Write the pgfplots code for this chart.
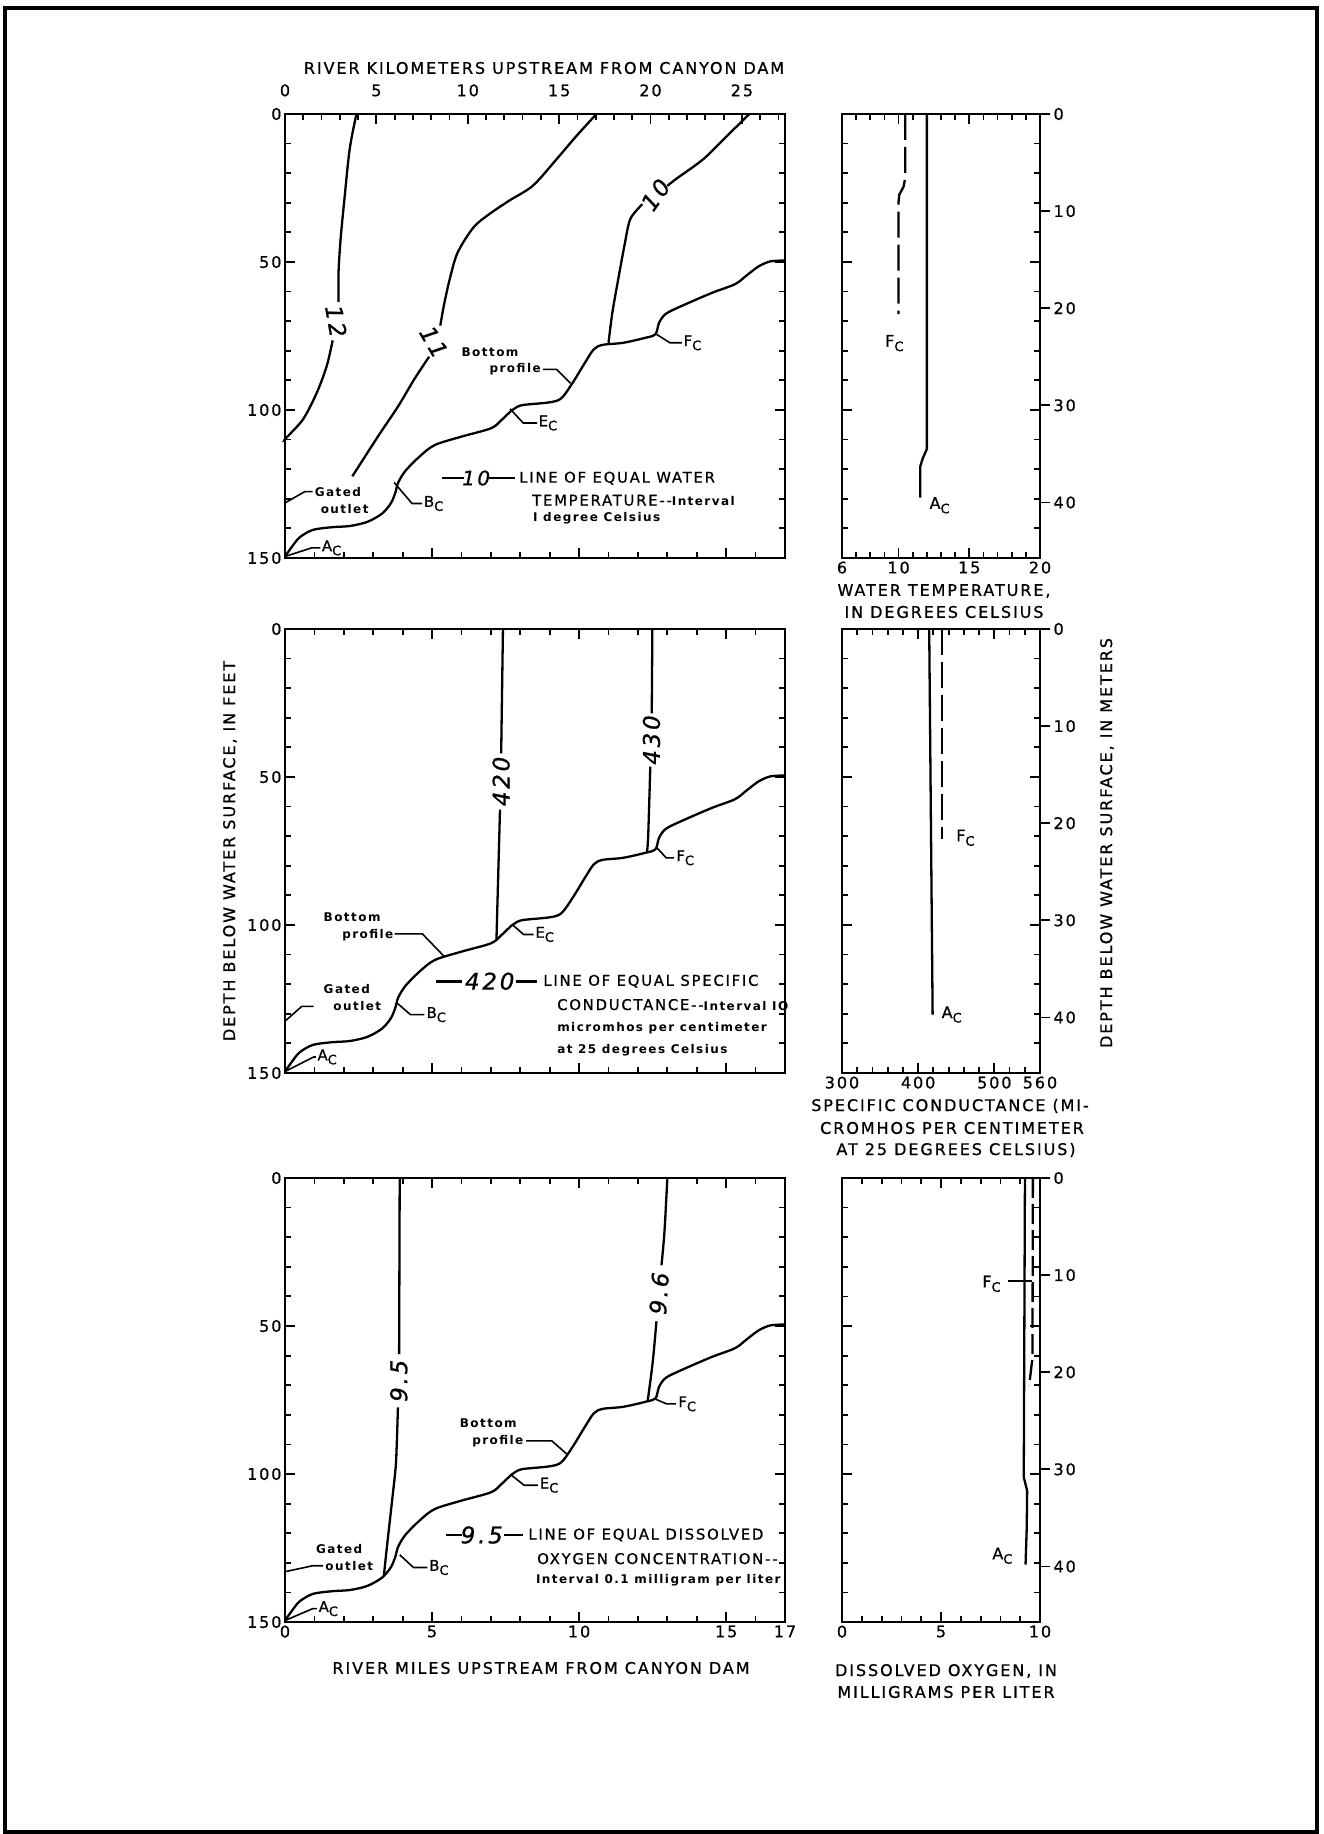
\documentclass[border=0pt]{standalone}
\usepackage{fontspec}
\setmainfont{DejaVu Sans}[LetterSpace=12, UprightFeatures={FakeBold=0.8}, ItalicFeatures={FakeBold=0.8}]
\usepackage{pgfplots}
\pgfplotsset{compat=1.18}

\newcommand{\fs}[1]{\fontsize{#1}{#1}\selectfont}
\newcommand{\sub}[1]{\raisebox{-0.5ex}{\fs{13}#1}}

% bottom profile of the reservoir, river miles vs feet below surface
\pgfplotstableread{
x y
0 149.5
0.25 146
0.5 143
0.95 140.5
1.6 139.6
2.2 139.2
2.8 137.8
3.3 135
3.6 131.5
3.75 128
3.85 124.5
4.1 120.5
4.6 115.5
5.1 111.8
6.0 109.0
7.0 106.2
7.35 103.5
7.7 100.2
7.85 99.2
8.1 98.3
9.0 97.4
9.4 96
9.8 90.5
10.2 84
10.5 79.5
10.8 78
11.5 77.3
12.3 75.5
12.6 74.4
12.72 70.5
12.95 67.5
13.5 64.8
14.5 60.5
15.3 57.5
15.7 54.5
16.1 51.5
16.5 49.8
17 49.5
}\profile

\tikzset{
  ldr/.style={black, line width=1.6pt},
  bt/.style={font=\bfseries\fs{12}, anchor=west, inner sep=0pt},
  up/.style={font=\fs{14.8}, anchor=west, inner sep=0pt},
  iso/.style={font=\itshape\fs{23}, inner sep=0pt},
  lab/.style={font=\fs{16}},
}
\pgfplotsset{
  every axis/.append style={scale only axis, clip=false,
    axis line style={line width=2.3pt},
    tick style={line width=1.8pt, black},
    major tick length=10pt, minor tick length=6pt,
    tick label style={font=\fs{16}},
    /pgf/number format/assume math mode=true},
  lp/.style={width=500pt, height=444pt, xmin=0, xmax=17, ymin=0, ymax=150,
    y dir=reverse, xtick={0,5,10,15}, minor xtick={0,1,...,17},
    ytick={0,50,100,150}, minor ytick={0,10,...,150}, xticklabels={}},
  rp/.style={width=198pt, height=444pt, ymin=0, ymax=45.72, y dir=reverse,
    ytick={15.24,30.48}, yticklabels={},
    minor ytick={3.048,6.096,9.144,12.192,18.288,21.336,24.384,27.432,33.528,36.576,39.624,42.672}},
  rr/.style={width=198pt, height=444pt, ymin=0, ymax=45.72, y dir=reverse,
    xmin=0, xmax=1, axis y line*=right, axis x line=none,
    ytick={0,10,20,30,40}, tick align=outside, major tick length=10pt},
  ln/.style={black, line width=2.3pt, smooth, tension=0.5},
  ls/.style={black, line width=2.3pt},
  ld/.style={black, line width=2.3pt, dash pattern=on 26pt off 7pt},
}

\begin{document}
\begin{tikzpicture}[x=1pt,y=1pt]
\path[use as bounding box] (0,0) rectangle (1323,1834);
\draw[line width=3.5pt] (5,2) rectangle (1317,1826);

% ---------------- top left: water temperature ----------------
\begin{axis}[lp, at={(285pt,1720pt)}, anchor=north west, xtick pos=bottom]
\addplot[ln] table {\profile};
\addplot[ln] coordinates {(2.43,0) (2.20,11.8) (2.02,28.8) (1.89,42.3) (1.82,53.6) (1.82,63.5)};
\addplot[ln] coordinates {(1.62,76.5) (1.42,85.1) (1.08,94.2) (0.61,103.2) (0.04,109.4) (0,110)};
\addplot[ln] coordinates {(10.59,0) (9.92,7.3) (9.24,15.2) (8.43,24.2) (7.62,29.3) (6.95,33.8) (6.41,38.3) (5.87,46.8) (5.60,55.8) (5.40,64.8) (5.28,71.5)};
\addplot[ln] coordinates {(4.90,82) (4.39,89.7) (3.85,98.7) (3.17,108.8) (2.29,122.4)};
\addplot[ln] coordinates {(15.79,0) (15.04,7.3) (14.23,15.2) (13.29,22.0) (13.0,24.3)};
\addplot[ln] coordinates {(12.15,30.5) (11.74,35.5) (11.54,44.5) (11.33,55.8) (11.13,67.1) (11.0,77.3)};
\node[iso, rotate=-80] at (axis cs:1.74,70) {12};
\node[iso, rotate=-60] at (axis cs:5.06,77) {11};
\node[iso, rotate=55] at (axis cs:12.6,27.3) {10};
% annotations
\draw[ldr] (axis cs:0,131.4) -- (axis cs:0.67,127.6) -- (axis cs:0.94,127.6);
\node[bt] at (axis cs:1.01,127.6) {Gated};
\node[bt] at (axis cs:1.21,133.6) {outlet};
\draw[ldr] (axis cs:0,149.5) -- (axis cs:0.9,146.6) -- (axis cs:1.2,146.6);
\node[up] at (axis cs:1.25,146.6) {A\sub{C}};
\draw[ldr] (axis cs:3.71,124.5) -- (axis cs:4.32,131.6) -- (axis cs:4.66,131.6);
\node[up] at (axis cs:4.72,131.6) {B\sub{C}};
\draw[ldr] (axis cs:7.65,99.6) -- (axis cs:8.1,104.4) -- (axis cs:8.57,104.4);
\node[up] at (axis cs:8.62,104.4) {E\sub{C}};
\draw[ldr] (axis cs:12.64,74.5) -- (axis cs:13.09,77.3) -- (axis cs:13.49,77.3);
\node[up] at (axis cs:13.55,77.3) {F\sub{C}};
\node[bt] at (axis cs:6.0,80.6) {Bottom};
\node[bt] at (axis cs:6.95,86.3) {profile};
\draw[ldr] (axis cs:8.77,86.3) -- (axis cs:9.24,86.3) -- (axis cs:9.71,91);
\draw[line width=2.6pt] (axis cs:5.33,123) -- (axis cs:6.07,123);
\node[iso, font=\itshape\fs{20}] at (axis cs:6.5,123) {10};
\draw[line width=2.6pt] (axis cs:6.95,123) -- (axis cs:7.83,123);
\node[up] at (axis cs:7.96,123) {LINE OF EQUAL WATER};
\node[up] at (axis cs:8.4,130.5) {TEMPERATURE{-}{-}\bfseries\fs{12}Interval};
\node[bt] at (axis cs:8.43,136.5) {I degree Celsius};
\end{axis}
% km axis on top
\begin{axis}[width=500pt, height=444pt, at={(285pt,1720pt)}, anchor=north west,
  xmin=0, xmax=27.3588, ymin=0, ymax=1, axis x line*=top, axis y line=none,
  xtick={0,5,...,25}, minor xtick={0,1,...,27}, tick align=inside,
  xticklabel style={yshift=14pt}]
\end{axis}
\node[lab] at (544,1766) {RIVER KILOMETERS UPSTREAM FROM CANYON DAM};

% ---------------- top right: temperature profiles ----------------
\begin{axis}[rp, at={(842pt,1720pt)}, anchor=north west, xmin=6, xmax=20,
  xtick={6,10,15,20}, minor xtick={6,7,...,20}]
\addplot[ld] coordinates {(10.47,0) (10.47,6.6) (10.35,7.5) (10.05,8.3) (10.0,9.0) (10.0,20.6)};
\addplot[ls] coordinates {(12.0,0) (12.0,34.5) (11.7,35.5) (11.53,36.3) (11.53,39.5)};
\node[lab] at (axis cs:9.7,23.6) {F\sub{C}};
\node[lab] at (axis cs:12.9,40.3) {A\sub{C}};
\end{axis}
\begin{axis}[rr, at={(842pt,1720pt)}, anchor=north west]
\end{axis}
\node[lab] at (944,1243) {WATER TEMPERATURE,};
\node[lab] at (944,1222) {IN DEGREES CELSIUS};

% ---------------- middle left: specific conductance ----------------
\begin{axis}[lp, at={(285pt,1205pt)}, anchor=north west]
\addplot[ln] table {\profile};
\addplot[ln] coordinates {(7.41,0) (7.35,42)};
\addplot[ln] coordinates {(7.31,61) (7.19,104.8)};
\addplot[ln] coordinates {(12.49,0) (12.47,28.5)};
\addplot[ln] coordinates {(12.42,46.5) (12.35,69.4) (12.31,75.3)};
\node[iso, rotate=90] at (axis cs:7.35,51.5) {420};
\node[iso, rotate=90] at (axis cs:12.46,37.5) {430};
\draw[ldr] (axis cs:0,132.5) -- (axis cs:0.57,127.5) -- (axis cs:0.97,127.5);
\node[bt] at (axis cs:1.31,121.8) {Gated};
\node[bt] at (axis cs:1.64,127.5) {outlet};
\draw[ldr] (axis cs:0,149.5) -- (axis cs:0.97,144.6) -- (axis cs:1.05,144.6);
\node[up] at (axis cs:1.1,144.6) {A\sub{C}};
\draw[ldr] (axis cs:3.8,126.3) -- (axis cs:4.27,130.3) -- (axis cs:4.74,130.3);
\node[up] at (axis cs:4.81,130.3) {B\sub{C}};
\draw[ldr] (axis cs:7.72,99.8) -- (axis cs:8.11,103.2) -- (axis cs:8.45,103.2);
\node[up] at (axis cs:8.51,103.2) {E\sub{C}};
\draw[ldr] (axis cs:12.66,74.1) -- (axis cs:12.96,77.3) -- (axis cs:13.23,77.3);
\node[up] at (axis cs:13.3,77.3) {F\sub{C}};
\node[bt] at (axis cs:1.31,97.5) {Bottom};
\node[bt] at (axis cs:1.94,103.5) {profile};
\draw[ldr] (axis cs:3.73,103) -- (axis cs:4.67,103) -- (axis cs:5.41,110.6);
\draw[line width=2.6pt] (axis cs:5.15,119) -- (axis cs:6.02,119);
\node[iso] at (axis cs:6.96,119) {420};
\draw[line width=2.6pt] (axis cs:7.84,119) -- (axis cs:8.58,119);
\node[up] at (axis cs:8.78,119) {LINE OF EQUAL SPECIFIC};
\node[up] at (axis cs:9.25,126.9) {CONDUCTANCE{-}{-}\bfseries\fs{12}Interval IO};
\node[bt] at (axis cs:9.25,134.8) {micromhos per centimeter};
\node[bt] at (axis cs:9.25,142.3) {at 25 degrees Celsius};
\end{axis}
\node[lab, rotate=90] at (230,983) {DEPTH BELOW WATER SURFACE, IN FEET};

% ---------------- middle right: conductance profiles ----------------
\begin{axis}[rp, at={(842pt,1205pt)}, anchor=north west, xmin=300, xmax=560,
  xtick={300,400,500,560}, minor xtick={300,320,...,560}]
\addplot[ls] coordinates {(414.5,0) (419,39.7)};
\addplot[ld] coordinates {(431.5,0) (431.5,21.6)};
\node[lab] at (axis cs:462,21.5) {F\sub{C}};
\node[lab] at (axis cs:444,39.7) {A\sub{C}};
\end{axis}
\begin{axis}[rr, at={(842pt,1205pt)}, anchor=north west]
\end{axis}
\node[lab] at (950,728) {SPECIFIC CONDUCTANCE (MI-};
\node[lab] at (952,706) {CROMHOS PER CENTIMETER};
\node[lab] at (956,684) {AT 25 DEGREES CELSIUS)};
\node[lab, rotate=90] at (1107,991) {DEPTH BELOW WATER SURFACE, IN METERS};

% ---------------- bottom left: dissolved oxygen ----------------
\begin{axis}[lp, at={(285pt,656pt)}, anchor=north west,
  xtick={0,5,10,15,17}, xticklabels={0,5,10,15,17}]
\addplot[ln] table {\profile};
\addplot[ln] coordinates {(3.90,0) (3.88,59.5)};
\addplot[ln] coordinates {(3.84,77.5) (3.80,90) (3.76,98) (3.63,110) (3.45,126) (3.36,134.6)};
\addplot[ln] coordinates {(13.0,0) (12.9,18.4) (12.8,29.5)};
\addplot[ln] coordinates {(12.63,48.4) (12.5,62.4) (12.33,75.4)};
\node[iso, rotate=90] at (axis cs:3.87,68.5) {9.5};
\node[iso, rotate=86] at (axis cs:12.72,39) {9.6};
\draw[ldr] (axis cs:0,133) -- (axis cs:0.94,131) -- (axis cs:1.3,131);
\node[bt] at (axis cs:1.05,125.5) {Gated};
\node[bt] at (axis cs:1.37,131) {outlet};
\draw[ldr] (axis cs:0,149.5) -- (axis cs:0.94,145.5) -- (axis cs:1.08,145.5);
\node[up] at (axis cs:1.14,145.5) {A\sub{C}};
\draw[ldr] (axis cs:3.9,127.3) -- (axis cs:4.37,131.6) -- (axis cs:4.84,131.6);
\node[up] at (axis cs:4.9,131.6) {B\sub{C}};
\draw[ldr] (axis cs:7.7,100.4) -- (axis cs:8.13,103.8) -- (axis cs:8.6,103.8);
\node[up] at (axis cs:8.66,103.8) {E\sub{C}};
\draw[ldr] (axis cs:12.57,74.6) -- (axis cs:12.97,76.3) -- (axis cs:13.3,76.3);
\node[up] at (axis cs:13.37,76.3) {F\sub{C}};
\node[bt] at (axis cs:5.94,82.7) {Bottom};
\node[bt] at (axis cs:6.36,89) {profile};
\draw[ldr] (axis cs:8.2,88.8) -- (axis cs:9.07,88.8) -- (axis cs:9.61,93.5);
\draw[line width=2.6pt] (axis cs:5.48,120.6) -- (axis cs:6.02,120.6);
\node[iso] at (axis cs:6.69,120.6) {9.5};
\draw[line width=2.6pt] (axis cs:7.46,120.6) -- (axis cs:8.09,120.6);
\node[up] at (axis cs:8.27,120.6) {LINE OF EQUAL DISSOLVED};
\node[up] at (axis cs:8.57,128.6) {OXYGEN CONCENTRATION{-}{-}};
\node[bt] at (axis cs:8.53,135.9) {Interval 0.1 milligram per liter};
\end{axis}
\node[lab] at (541,166) {RIVER MILES UPSTREAM FROM CANYON DAM};

% ---------------- bottom right: dissolved oxygen profiles ----------------
\begin{axis}[rp, at={(842pt,656pt)}, anchor=north west, xmin=0, xmax=10,
  xtick={0,5,10}, minor xtick={0,1,...,10}]
\addplot[ls] coordinates {(9.24,0) (9.2,20) (9.18,30.8) (9.35,32.2) (9.33,36) (9.27,39.8)};
\addplot[ls, dash pattern=on 20pt off 6pt] coordinates {(9.64,0) (9.62,18.5) (9.45,21.4)};
\draw[ldr] (axis cs:8.36,10.6) -- (axis cs:9.6,10.6);
\node[lab] at (axis cs:7.55,10.9) {F\sub{C}};
\node[lab] at (axis cs:8.1,38.9) {A\sub{C}};
\end{axis}
\begin{axis}[rr, at={(842pt,656pt)}, anchor=north west]
\end{axis}
\node[lab] at (946,163) {DISSOLVED OXYGEN, IN};
\node[lab] at (946,142) {MILLIGRAMS PER LITER};
\end{tikzpicture}
\end{document}
